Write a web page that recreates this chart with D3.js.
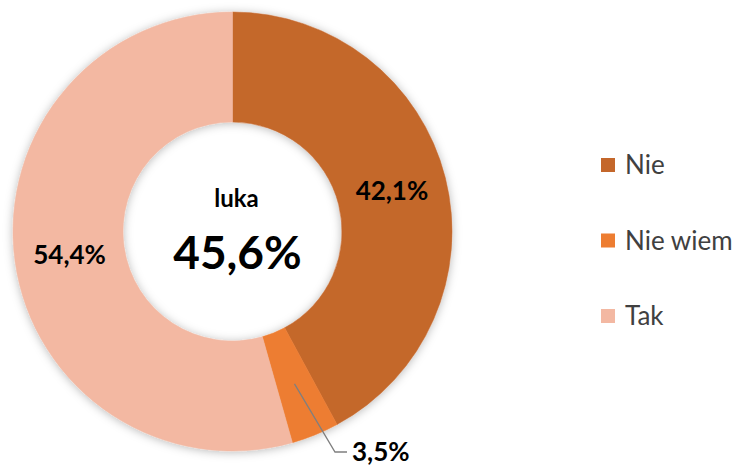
<!DOCTYPE html>
<html>
<head>
<meta charset="utf-8">
<script src="https://cdn.jsdelivr.net/npm/d3@7"></script>
<style>
  body { margin: 0; background: #fff; }
  svg { display: block; }
</style>
</head>
<body>
<div id="chart"></div>
<script>
// data
var categories = ["Nie", "Nie wiem", "Tak"];
var values = [42.1, 3.5, 54.4];
var labels = ["42,1%", "3,5%", "54,4%"];
var colors = ["#C4672B", "#ED7D31", "#F3B8A2"];
var centerTitle = "luka";
var centerValue = "45,6%";

var width = 746, height = 466;
var cx = 232.5, cy = 231.5,
    outerR = 219.5, innerR = 109.5;

var svg = d3.select("#chart").append("svg")
    .attr("width", width)
    .attr("height", height);

// soft shadow like the office chart
var defs = svg.append("defs");
var f = defs.append("filter").attr("id", "shadow")
    .attr("x", "-20%").attr("y", "-20%").attr("width", "140%").attr("height", "140%");
f.append("feDropShadow")
    .attr("dx", 0).attr("dy", 1)
    .attr("stdDeviation", 5)
    .attr("flood-color", "#000")
    .attr("flood-opacity", 0.28);

var g = svg.append("g").attr("transform", "translate(" + cx + "," + cy + ")");

var pie = d3.pie().sort(null).value(function(d) { return d; });
var arcs = pie(values);

var arc = d3.arc().innerRadius(innerR).outerRadius(outerR);

var ring = g.append("g").attr("filter", "url(#shadow)");
ring.selectAll("path.slice")
    .data(arcs)
  .enter().append("path")
    .attr("class", "slice")
    .attr("d", arc)
    .attr("fill", function(d, i) { return colors[i]; })
    .attr("stroke", function(d, i) { return colors[i]; })
    .attr("stroke-width", 0.5);

// slice labels
var labelArc = d3.arc().innerRadius((innerR + outerR) / 2).outerRadius((innerR + outerR) / 2);
var font = "Lato, 'Open Sans', sans-serif";

arcs.forEach(function(d, i) {
  var c = labelArc.centroid(d);
  if (categories[i] === "Nie wiem") {
    // small slice: label outside with leader line
    var ex = 102.5, ey = 220.5;
    g.append("polyline")
      .attr("points", [c, [ex, ey], [ex + 12, ey]].map(function(p) { return p.join(","); }).join(" "))
      .attr("fill", "none")
      .attr("stroke", "#7f7f7f")
      .attr("stroke-width", 1.3);
    g.append("text")
      .attr("x", ex + 17).attr("y", ey)
      .attr("dy", "0.36em")
      .attr("font-family", font)
      .attr("font-weight", "bold")
      .attr("font-size", 26)
      .attr("fill", "#000")
      .text(labels[i]);
  } else {
    g.append("text")
      .attr("x", c[0]).attr("y", c[1])
      .attr("dy", "0.36em")
      .attr("text-anchor", "middle")
      .attr("font-family", font)
      .attr("font-weight", "bold")
      .attr("font-size", 26)
      .attr("fill", "#000")
      .text(labels[i]);
  }
});

// center text
g.append("text")
  .attr("x", 4).attr("y", -33)
  .attr("dy", "0.36em")
  .attr("text-anchor", "middle")
  .attr("font-family", font)
  .attr("font-weight", "bold")
  .attr("font-size", 24)
  .attr("fill", "#000")
  .text(centerTitle);

g.append("text")
  .attr("x", 5).attr("y", 21)
  .attr("dy", "0.36em")
  .attr("text-anchor", "middle")
  .attr("font-family", font)
  .attr("font-weight", "bold")
  .attr("font-size", 46)
  .attr("fill", "#000")
  .text(centerValue);

// legend
var legend = svg.append("g").attr("transform", "translate(601,0)");
var ly = d3.scalePoint().domain(categories).range([165, 316]);

var item = legend.selectAll("g.item")
    .data(categories)
  .enter().append("g")
    .attr("class", "item")
    .attr("transform", function(d) { return "translate(0," + ly(d) + ")"; });

item.append("rect")
    .attr("x", 0).attr("y", -7)
    .attr("width", 14).attr("height", 14)
    .attr("fill", function(d, i) { return colors[i]; });

item.append("text")
    .attr("x", 24).attr("y", 0)
    .attr("dy", "0.36em")
    .attr("font-family", font)
    .attr("font-size", 26)
    .attr("fill", "#404040")
    .text(function(d) { return d; });
</script>
</body>
</html>
